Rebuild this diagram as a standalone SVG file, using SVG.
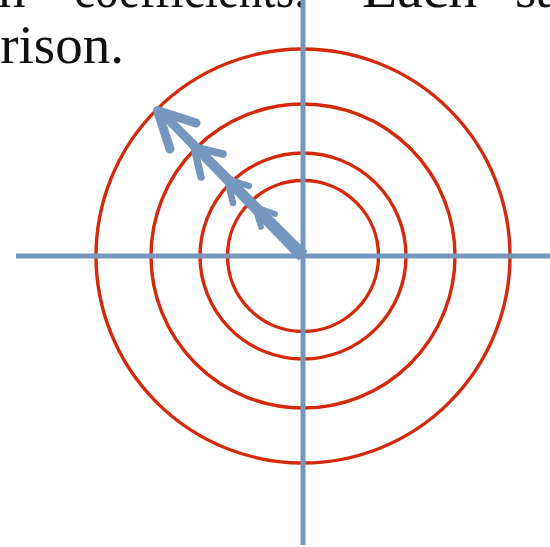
<svg xmlns="http://www.w3.org/2000/svg" width="550" height="547" viewBox="0 0 550 547">
<style>
.txt{font-family:"Liberation Serif","Times New Roman",serif;font-size:55px;fill:#111}
.ring{fill:none;stroke:#D32A0C;stroke-width:3.4}
.axis{stroke:#7597BF;stroke-width:5;fill:none}
.head{fill:none;stroke:#7597BF;stroke-linecap:round;stroke-linejoin:round}
</style>
<rect width="550" height="547" fill="#fff"/>
<g id="text">
<text class="txt" x="-2" y="7">n</text>
<text class="txt" x="74" y="7" textLength="232" lengthAdjust="spacingAndGlyphs">coefficients.</text>
<text class="txt" x="362" y="7" textLength="115" lengthAdjust="spacingAndGlyphs">Each</text>
<text class="txt" x="515" y="7">sa</text>
<text class="txt" x="124" y="63" text-anchor="end">arison.</text>
</g>
<g id="rings">
<circle class="ring" cx="303" cy="256" r="207"/>
<circle class="ring" cx="303" cy="256" r="152"/>
<circle class="ring" cx="303" cy="256" r="103"/>
<circle class="ring" cx="303" cy="256" r="75.5"/>
</g>
<g id="axes">
<line class="axis" x1="16" y1="256" x2="550" y2="256"/>
<line class="axis" x1="303" y1="0" x2="303" y2="545"/>
</g>
<g id="arrows">
<polygon points="307.5,251.5 298.5,260.5 158,115 164,109" fill="#7597BF"/>
<polyline class="head" stroke-width="9" points="196,123 157.5,110.5 170,149"/>
<polyline class="head" stroke-width="7.5" points="223,154 194,147 201,177"/>
<polyline class="head" stroke-width="6.5" points="249,186 227,179 233,203"/>
<polyline class="head" stroke-width="6" points="275,214 255,207 261,227"/>
</g>
</svg>
